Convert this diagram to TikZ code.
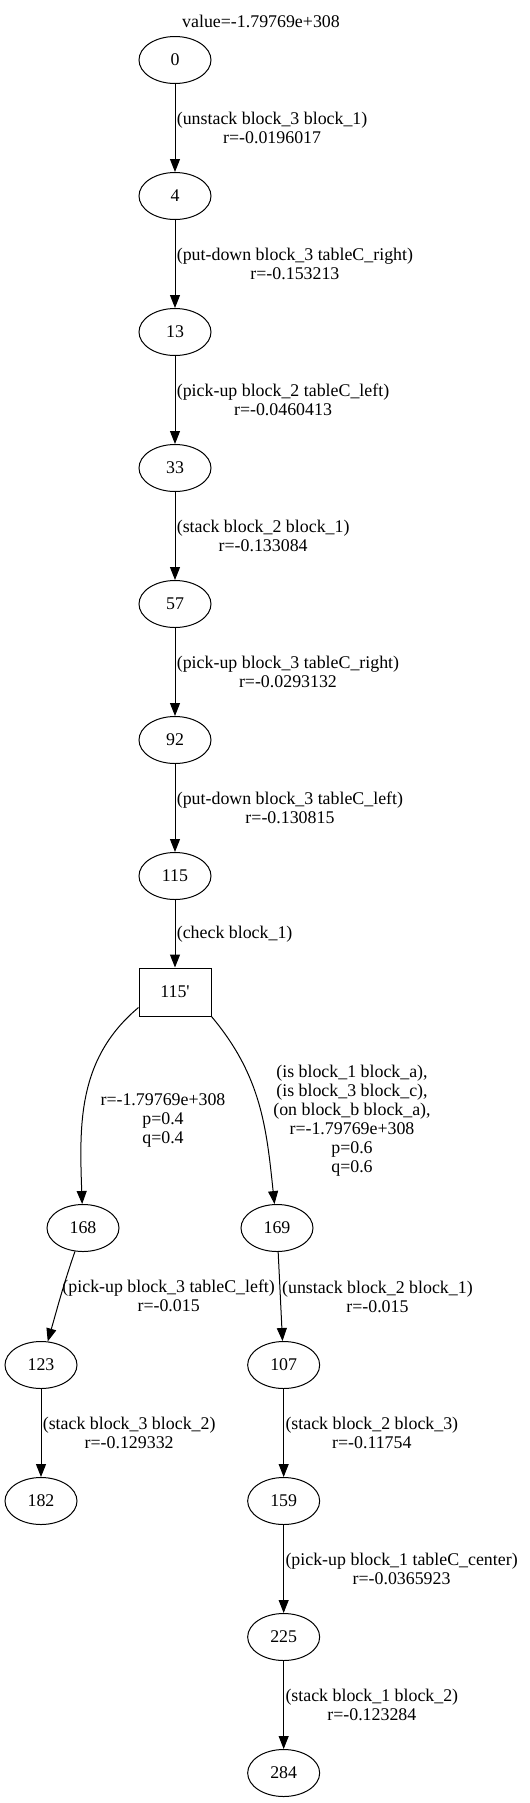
\documentclass[tikz,border=0pt]{standalone}
\usepackage{fontspec}
\setmainfont{Liberation Serif}
\usetikzlibrary{shapes.geometric,arrows.meta,positioning}

\begin{document}
\begin{tikzpicture}[>={Triangle[length=9.75pt,width=7.5pt]},node distance=102pt,on grid,
    font=\fontsize{13.4pt}{14.25pt}\selectfont,
    state/.style={ellipse,draw,line width=0.75pt,minimum width=54pt,minimum height=35.25pt,inner sep=0pt},
    chance/.style={rectangle,draw,line width=0.75pt,minimum width=54pt,minimum height=36pt,inner sep=0pt},
    lbl/.style={align=center,inner sep=1pt}]
    \useasboundingbox (0,0) rectangle (396.75pt,-1352.25pt);
    \node (title) at (195.75pt,-15.75pt) {value=-1.79769e+308};

    \node[state] (q_0) at (131.25pt,-45pt) {0};
    \node[state] [below=of q_0] (q_4) {4};
    \node[state] [below=of q_4] (q_13) {13};
    \node[state] [below=of q_13] (q_33) {33};
    \node[state] [below=of q_33] (q_57) {57};
    \node[state] [below=of q_57] (q_92) {92};
    \node[state] [below=of q_92] (q_115) {115};
    \node[chance] [below=87pt of q_115] (q_115c) {115{\addfontfeatures{Ligatures=TeXOff}'}};
    \node[state] [below left=177pt and 69pt of q_115c] (q_168) {168};
    \node[state] [below right=177pt and 76.5pt of q_115c] (q_169) {169};
    \node[state] [below left=102.75pt and 31.5pt of q_168] (q_123) {123};
    \node[state] [below right=102.75pt and 5pt of q_169] (q_107) {107};
    \node[state] [below=of q_123] (q_182) {182};
    \node[state] [below=of q_107] (q_159) {159};
    \node[state] [below=of q_159] (q_225) {225};
    \node[state] [below=of q_225] (q_284) {284};

    \path[->,line width=0.75pt]
    (q_0) edge node[lbl,right] {(unstack block\_3 block\_1)\\r=-0.0196017} (q_4)
    (q_4) edge node[lbl,right] {(put-down block\_3 tableC\_right)\\r=-0.153213} (q_13)
    (q_13) edge node[lbl,right] {(pick-up block\_2 tableC\_left)\\r=-0.0460413} (q_33)
    (q_33) edge node[lbl,right] {(stack block\_2 block\_1)\\r=-0.133084} (q_57)
    (q_57) edge node[lbl,right] {(pick-up block\_3 tableC\_right)\\r=-0.0293132} (q_92)
    (q_92) edge node[lbl,right] {(put-down block\_3 tableC\_left)\\r=-0.130815} (q_115)
    (q_115) edge node[lbl,right] {(check block\_1)} (q_115c)
    (q_115c.203) edge [out=220,in=92] (q_168)
    (q_115c.south east) edge [out=-50,in=96] (q_169)
    (q_168) edge [out=-109,in=74] node[lbl,right] {(pick-up block\_3 tableC\_left)\\r=-0.015} (q_123)
    (q_169) edge node[lbl,right] {(unstack block\_2 block\_1)\\r=-0.015} (q_107)
    (q_123) edge node[lbl,right] {(stack block\_3 block\_2)\\r=-0.129332} (q_182)
    (q_107) edge node[lbl,right] {(stack block\_2 block\_3)\\r=-0.11754} (q_159)
    (q_159) edge node[lbl,right] {(pick-up block\_1 tableC\_center)\\r=-0.0365923} (q_225)
    (q_225) edge node[lbl,right] {(stack block\_1 block\_2)\\r=-0.123284} (q_284)
    ;

    % labels of the two chance branches
    \node[lbl] (l_168) at (122.25pt,-840pt) {r=-1.79769e+308\\p=0.4\\q=0.4};
    \node[lbl] (l_169) at (264pt,-840.75pt) {(is block\_1 block\_a),\\(is block\_3 block\_c),\\(on block\_b block\_a),\\r=-1.79769e+308\\p=0.6\\q=0.6};
\end{tikzpicture}
\end{document}
